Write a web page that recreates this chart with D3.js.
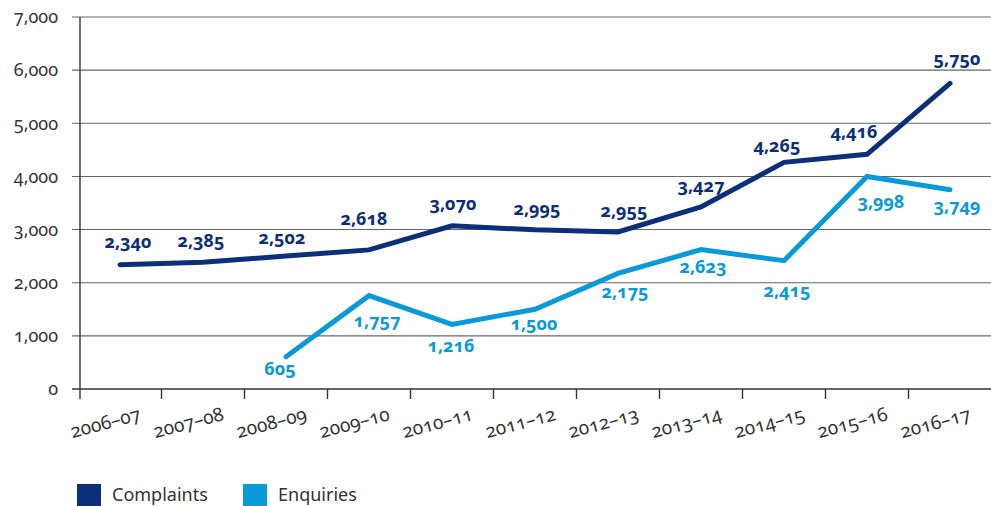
<!DOCTYPE html>
<html>
<head>
<meta charset="utf-8">
<script src="https://cdn.jsdelivr.net/npm/d3@7"></script>
<style>
  body { margin: 0; background: #fff; }
  svg text { font-family: "Noto Sans", sans-serif; font-feature-settings: "onum" 1; font-variant-numeric: oldstyle-nums; }
</style>
</head>
<body>
<svg width="991" height="506"></svg>
<script>
 // data
 var years = ["2006–07", "2007–08", "2008–09", "2009–10", "2010–11", "2011–12",
              "2012–13", "2013–14", "2014–15", "2015–16", "2016–17"];
 var complaints = [2340, 2385, 2502, 2618, 3070, 2995, 2955, 3427, 4265, 4416, 5750];
 var enquiries = [null, null, 605, 1757, 1216, 1500, 2175, 2623, 2415, 3998, 3749];
 var yTicks = [0, 1000, 2000, 3000, 4000, 5000, 6000, 7000];

 // label nudges (dx, dy) relative to each point
 var complaintsNudge = [[8, -17], [-2, -15], [-4, -12], [-5, -25], [1, -16], [2, -15],
                        [6, -15], [0, -15], [-7, -10], [-13, -16], [7, -18]];
 var enquiriesNudge = [null, null, [-6, 18], [8, 31], [-1, 28], [-1, 21],
                       [7, 25], [2, 23], [3, 36], [14, 31], [7, 22]];

 var navy = "#0b2f79";
 var cyan = "#0b9ad8";

 var svg = d3.select("svg");
 var plotLeft = 80, plotRight = 991, plotTop = 17, plotBottom = 389;

 var x = d3.scalePoint().domain(years).range([120, 950]);
 var step = x.step();
 var y = d3.scaleLinear().domain([0, 7000]).range([plotBottom, plotTop]);
 var fmt = d3.format(",");

 //gridlines
 svg.append("g")
   .selectAll("line")
   .data(yTicks)
   .enter()
   .append("line")
   .attr("x1", plotLeft - 8)
   .attr("x2", plotRight)
   .attr("y1", d => y(d))
   .attr("y2", d => y(d))
   .attr("stroke", d => d === 0 ? "#333" : "#666")
   .attr("stroke-width", d => d === 0 ? 1.4 : 1.1);

 // y axis
 var yAxis = svg.append("g")
   .attr("transform", "translate(" + plotLeft + ",0)")
   .call(d3.axisLeft(y).tickValues(yTicks).tickFormat(fmt).tickSize(0).tickPadding(22));
 yAxis.select(".domain").remove();
 yAxis.selectAll("text")
   .attr("font-size", 18)
   .attr("fill", "#333");
 svg.append("line")
   .attr("x1", plotLeft).attr("x2", plotLeft)
   .attr("y1", plotTop).attr("y2", plotBottom + 10)
   .attr("stroke", "#333")
   .attr("stroke-width", 1.4);

 // x ticks at band boundaries
 svg.append("g")
   .selectAll("line")
   .data(years.slice(0, -1))
   .enter()
   .append("line")
   .attr("x1", d => x(d) + step / 2)
   .attr("x2", d => x(d) + step / 2)
   .attr("y1", plotBottom)
   .attr("y2", plotBottom + 10)
   .attr("stroke", "#333")
   .attr("stroke-width", 1.4);

 svg.append("g")
   .selectAll("text")
   .data(years)
   .enter()
   .append("text")
   .attr("transform", d => "translate(" + (x(d) - 13) + ",429) rotate(-15)")
   .attr("text-anchor", "middle")
   .attr("font-size", 19)
   .attr("fill", "#333")
   .text(d => d);

 // lines
 var line = d3.line()
   .defined(d => d.v != null)
   .x(d => x(d.year))
   .y(d => y(d.v));

 var series = [
   { name: "Complaints", color: navy, values: complaints, nudge: complaintsNudge },
   { name: "Enquiries", color: cyan, values: enquiries, nudge: enquiriesNudge }
 ];

 series.forEach(function(s) {
   var pts = years.map((yr, i) => ({ year: yr, v: s.values[i], n: s.nudge[i] }));
   svg.append("path")
     .datum(pts)
     .attr("fill", "none")
     .attr("stroke", s.color)
     .attr("stroke-width", 5)
     .attr("stroke-linecap", "round")
     .attr("d", line);

   svg.append("g")
     .selectAll("text")
     .data(pts.filter(d => d.v != null))
     .enter()
     .append("text")
     .attr("x", d => x(d.year) + d.n[0])
     .attr("y", d => y(d.v) + d.n[1])
     .attr("text-anchor", "middle")
     .attr("font-size", 18)
     .attr("font-weight", "bold")
     .attr("fill", s.color)
     .text(d => fmt(d.v));
 });

 // legend
 var legend = svg.append("g")
   .selectAll("g")
   .data(series)
   .enter()
   .append("g")
   .attr("transform", (d, i) => "translate(" + (77 + i * 166) + ",484)");
 legend.append("rect")
   .attr("width", 24)
   .attr("height", 22)
   .attr("fill", d => d.color);
 legend.append("text")
   .attr("x", 35)
   .attr("y", 17)
   .attr("font-size", 18)
   .attr("fill", "#333")
   .text(d => d.name);
</script>
</body>
</html>
